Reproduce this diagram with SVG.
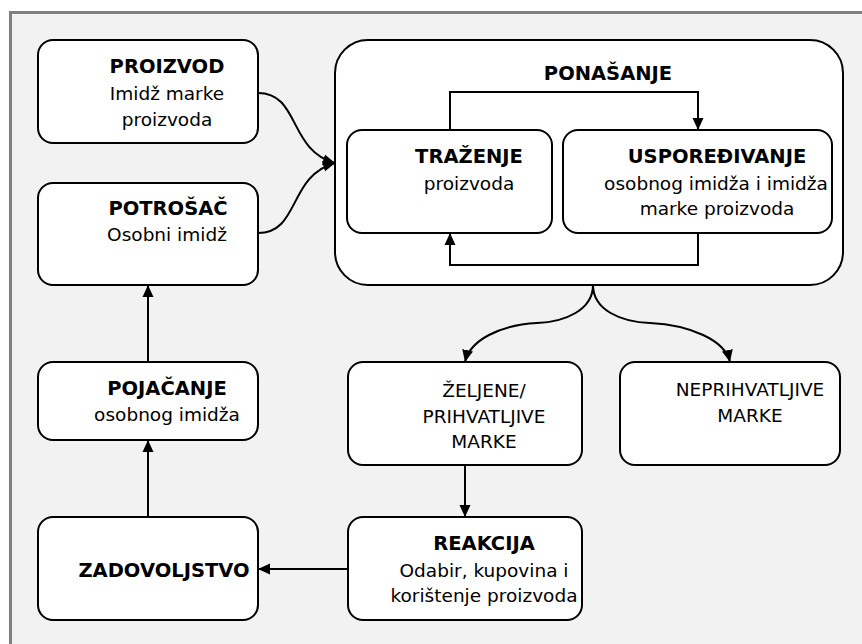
<svg xmlns="http://www.w3.org/2000/svg" width="862" height="644" viewBox="0 0 862 644">
<style>
.box{fill:#fff;stroke:#000;stroke-width:2}
.ln{fill:none;stroke:#000;stroke-width:2}
text{font-family:"DejaVu Sans",Verdana,sans-serif;font-size:18.5px;fill:#000;text-anchor:middle}
.b{font-weight:bold;font-size:19.5px}
</style>
<defs>
<marker id="ah" markerUnits="userSpaceOnUse" markerWidth="14" markerHeight="14" refX="12" refY="7" orient="auto">
<path d="M0,1.5 L12,7 L0,12.5 z" fill="#000"/>
</marker>
</defs>
<rect x="0" y="0" width="862" height="644" fill="#fff"/>
<rect x="10" y="12" width="852" height="632" fill="#f2f2f2"/>
<path d="M10.5,644 V12.5 H862" fill="none" stroke="#808080" stroke-width="3"/>

<g id="ponasanje">
<rect class="box" x="335" y="40" width="508" height="245" rx="33"/>
<text class="b" x="608" y="80">PONAŠANJE</text>
</g>
<g id="proizvod">
<rect class="box" x="38" y="40" width="220" height="103" rx="15"/>
<text class="b" x="167" y="73">PROIZVOD</text>
<text x="167" y="100">Imidž marke</text>
<text x="167" y="126">proizvoda</text>
</g>
<g id="potrosac">
<rect class="box" x="38" y="183" width="220" height="102" rx="15"/>
<text class="b" x="168" y="215">POTROŠAČ</text>
<text x="167" y="241">Osobni imidž</text>
</g>
<g id="trazenje">
<rect class="box" x="347" y="130" width="205" height="103" rx="15"/>
<text class="b" x="469" y="163">TRAŽENJE</text>
<text x="469" y="190">proizvoda</text>
</g>
<g id="usporedivanje">
<rect class="box" x="563" y="130" width="269" height="103" rx="15"/>
<text class="b" x="717" y="163">USPOREĐIVANJE</text>
<text x="716" y="190">osobnog imidža i imidža</text>
<text x="717" y="215">marke proizvoda</text>
</g>
<g id="pojacanje">
<rect class="box" x="38" y="362" width="220" height="78" rx="15"/>
<text class="b" x="167" y="395">POJAČANJE</text>
<text x="167" y="421">osobnog imidža</text>
</g>
<g id="zadovoljstvo">
<rect class="box" x="38" y="517" width="220" height="103" rx="15"/>
<text class="b" x="164" y="577">ZADOVOLJSTVO</text>
</g>
<g id="zeljene">
<rect class="box" x="348" y="362" width="234" height="103" rx="15"/>
<text x="484" y="397">ŽELJENE/</text>
<text x="484" y="423">PRIHVATLJIVE</text>
<text x="484" y="448">MARKE</text>
</g>
<g id="neprihvatljive">
<rect class="box" x="620" y="362" width="220" height="103" rx="15"/>
<text x="750" y="396">NEPRIHVATLJIVE</text>
<text x="750" y="422">MARKE</text>
</g>
<g id="reakcija">
<rect class="box" x="348" y="517" width="234" height="103" rx="15"/>
<text class="b" x="484" y="550">REAKCIJA</text>
<text x="484" y="577">Odabir, kupovina i</text>
<text x="484" y="602">korištenje proizvoda</text>
</g>

<g id="connectors">
<path class="ln" d="M258,93 C300,93 288,150 335,163" marker-end="url(#ah)"/>
<path class="ln" d="M258,233 C300,233 288,176 335,163" marker-end="url(#ah)"/>
<path class="ln" d="M450,130 V92 H698 V130" marker-end="url(#ah)"/>
<path class="ln" d="M698,233 V265 H450 V233" marker-end="url(#ah)"/>
<path class="ln" d="M593,285 C593,310 565,322 537,323 C500,325 470,340 465,362" marker-end="url(#ah)"/>
<path class="ln" d="M593,285 C593,310 621,322 650,323 C690,325 725,340 730,362" marker-end="url(#ah)"/>
<path class="ln" d="M465,465 V517" marker-end="url(#ah)"/>
<path class="ln" d="M348,569 H258" marker-end="url(#ah)"/>
<path class="ln" d="M148,517 V440" marker-end="url(#ah)"/>
<path class="ln" d="M148,362 V285" marker-end="url(#ah)"/>
</g>
</svg>
